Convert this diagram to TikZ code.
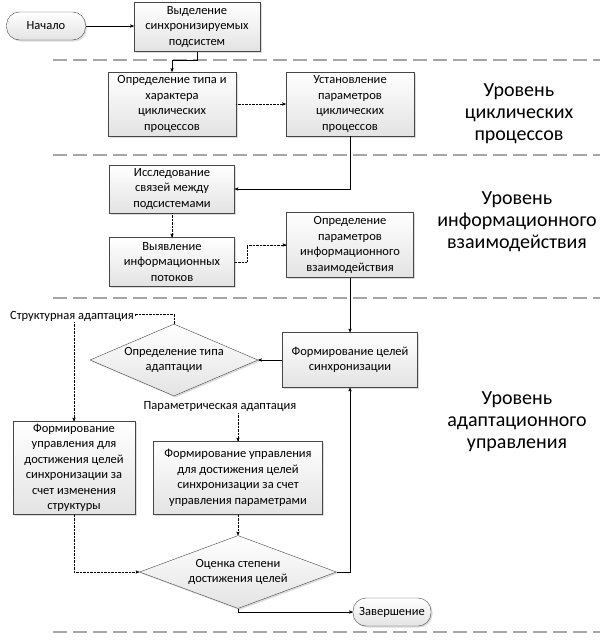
\documentclass[tikz,border=0pt]{standalone}
\usepackage{fontspec}
\setmainfont{Carlito}
\usetikzlibrary{positioning,calc,arrows,shapes.geometric,shadows}

\begin{document}
\begin{tikzpicture}[x=1pt,y=-1pt,>=stealth',font=\fontsize{12.5}{15.5}\selectfont,
	box/.style={draw=gray!55!black,top color=white,bottom color=gray!22,
		drop shadow={shadow xshift=1.5pt,shadow yshift=-1.5pt,fill=gray!55},
		align=center,inner sep=1pt},
	term/.style={box,rounded corners=13pt},
	decision/.style={box,diamond,aspect=2.5,inner sep=0pt},
	sep/.style={gray!70,line width=1.1pt,dash pattern=on 14pt off 6pt},
	level/.style={align=center,font=\fontsize{20}{22}\selectfont},
	tag/.style={fill=white,inner sep=1pt},
]
	\useasboundingbox (0,0) rectangle (608,640);
	% level borders
	\foreach \y in {60,155,298,632}
		\draw[sep] (53,\y) -- (600,\y);

	% cyclic level
	\node[term,minimum width=79pt,minimum height=28pt] (start) at (46,26) {Начало};
	\node[box,minimum width=126pt,minimum height=49pt] (select) at (197,27) {Выделение\\синхронизируемых\\подсистем};
	\node[box,minimum width=128pt,minimum height=64pt] (ctype) at (172,104) {Определение типа и\\характера\\циклических\\процессов};
	\node[box,minimum width=128pt,minimum height=64pt] (cparam) at (350,104) {Установление\\параметров\\циклических\\процессов};
	\node[level] (lvlcycle) at (519,114) {Уровень\\циклических\\процессов};

	% information level
	\node[box,minimum width=125pt,minimum height=48pt] (links) at (172,189) {Исследование\\связей между\\подсистемами};
	\node[box,minimum width=125pt,minimum height=49pt] (flows) at (172,262) {Выявление\\информационных\\потоков};
	\node[box,minimum width=127pt,minimum height=65pt] (iparam) at (350,245) {Определение\\параметров\\информационного\\взаимодействия};
	\node[level] (lvlinfo) at (517,222) {Уровень\\информационного\\взаимодействия};

	% adaptive level
	\node[box,minimum width=135pt,minimum height=55pt] (goals) at (350,360) {Формирование целей\\синхронизации};
	\node[decision,minimum width=168pt,minimum height=72pt] (atype) at (174,360) {Определение типа\\адаптации};
	\node[tag] (struct) at (72,316) {Структурная адаптация};
	\node[tag] (param) at (220,407) {Параметрическая адаптация};
	\node[box,minimum width=122pt,minimum height=93pt] (sctrl) at (74,468) {Формирование\\управления для\\достижения целей\\синхронизации за\\счет изменения\\структуры};
	\node[box,minimum width=169pt,minimum height=73pt] (pctrl) at (238,478) {Формирование управления\\для достижения целей\\синхронизации за счет\\управления параметрами};
	\node[decision,minimum width=197pt,minimum height=73pt] (eval) at (238,572) {Оценка степени\\достижения целей};
	\node[term,minimum width=78pt,minimum height=28pt] (stop) at (392,612) {Завершение};
	\node[level] (lvladapt) at (517,422) {Уровень\\адаптационного\\управления};

	\draw[->] (start.east) -- (start.east -| select.west);
	\draw[->] (select.south) -- ++(0,8) -| (ctype.north);
	\draw[->,densely dotted] (ctype) -- (cparam);
	\draw[->] (cparam.south) |- (links.east);
	\draw[->,densely dotted] (links) -- (flows);
	\draw[->,densely dotted] (flows.east) -- ++(12,0) |- (iparam.west);
	\draw[->] (iparam) -- (goals);
	\draw[->] (goals) -- (atype);
	\draw[densely dotted] (atype.north) -- ++(0,-10) -| (struct.east);
	\draw[->,densely dotted] (struct.south -| sctrl.north) -- (sctrl.north);
	\draw[->,densely dotted] (param.south -| pctrl.north) -- (pctrl.north);
	\draw[->,densely dotted] (pctrl) -- (eval);
	\draw[->,densely dotted] (sctrl.south) |- (eval.west);
	\draw[->] (eval.east) -| (goals.south);
	\draw[->] (eval.south) |- (stop.west);
\end{tikzpicture}
\end{document}
